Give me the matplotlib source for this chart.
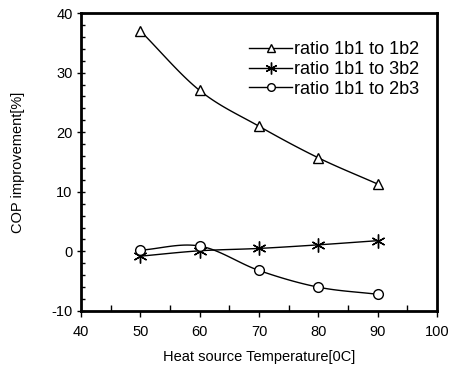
import numpy as np
import matplotlib.pyplot as plt
from matplotlib.ticker import MultipleLocator

# Data
temps = [50, 60, 70, 80, 90]
ratio_1b2 = [37.0, 27.0, 21.0, 15.7, 11.3]
ratio_3b2 = [-0.8, 0.1, 0.5, 1.1, 1.8]
ratio_2b3 = [0.2, 0.9, -3.2, -6.0, -7.2]

labels = ['ratio 1b1 to 1b2', 'ratio 1b1 to 3b2', 'ratio 1b1 to 2b3']
markers = ['^', (6, 2, 0), 'o']


def smooth(x, y, n=20):
    # Catmull-Rom curve through the points, like a spreadsheet "smoothed line"
    x = np.asarray(x, float)
    y = np.asarray(y, float)
    px = np.concatenate([[2*x[0]-x[1]], x, [2*x[-1]-x[-2]]])
    py = np.concatenate([[2*y[0]-y[1]], y, [2*y[-1]-y[-2]]])
    xs, ys = [], []
    t = np.linspace(0, 1, n)
    for i in range(1, len(px) - 2):
        for p, out in ((px, xs), (py, ys)):
            p0, p1, p2, p3 = p[i-1], p[i], p[i+1], p[i+2]
            out.extend(0.5 * (2*p1 + (-p0 + p2)*t + (2*p0 - 5*p1 + 4*p2 - p3)*t**2
                              + (-p0 + 3*p1 - 3*p2 + p3)*t**3))
    return xs, ys


plt.rcParams['font.family'] = ['Liberation Sans', 'DejaVu Sans']
plt.rcParams['axes.unicode_minus'] = False

fig = plt.figure(figsize=(4.51, 3.72), dpi=100)
ax = fig.add_axes([81/451, 1 - 311/372, 356/451, 298/372])

for series, m, lab in zip([ratio_1b2, ratio_3b2, ratio_2b3], markers, labels):
    star = m == (6, 2, 0)
    sx, sy = smooth(temps, series)
    ax.plot(sx, sy, color='black', lw=1)
    ax.plot(temps, series, ls='none', marker=m, ms=10 if star else 7,
            mfc='white', mec='black', mew=1)
    # proxy for legend
    ax.plot([], [], color='black', lw=1, marker=m, ms=8.5 if star else 5.5,
            mfc='white', mec='black', mew=1, label=lab)

ax.set_xlim(40, 100)
ax.set_ylim(-10, 40)
ax.xaxis.set_major_locator(MultipleLocator(10))
ax.xaxis.set_minor_locator(MultipleLocator(5))
ax.yaxis.set_major_locator(MultipleLocator(10))
ax.yaxis.set_minor_locator(MultipleLocator(2))
ax.tick_params(axis='x', which='major', direction='out', length=4, width=1,
               labelsize=10.5, pad=6)
ax.tick_params(axis='x', which='minor', direction='in', length=4, width=1)
ax.tick_params(axis='y', which='major', direction='inout', length=6, width=1,
               labelsize=10.5, pad=3)
ax.tick_params(axis='y', which='minor', direction='in', length=3, width=1)
for s in ax.spines.values():
    s.set_linewidth(2)

ax.set_xlabel('Heat source Temperature[0C]', fontsize=10.5, labelpad=8)
ax.set_ylabel('COP improvement[%]', fontsize=10.5, labelpad=19)

handles, labs = ax.get_legend_handles_labels()
ax.legend(handles[-3:], labs[-3:], loc='upper right', bbox_to_anchor=(0.95, 0.905),
          frameon=False, fontsize=13, handlelength=2.4, handletextpad=0.1,
          labelspacing=0.15, borderaxespad=0.0, borderpad=0.0)

fig.savefig('out.png', dpi=100)
